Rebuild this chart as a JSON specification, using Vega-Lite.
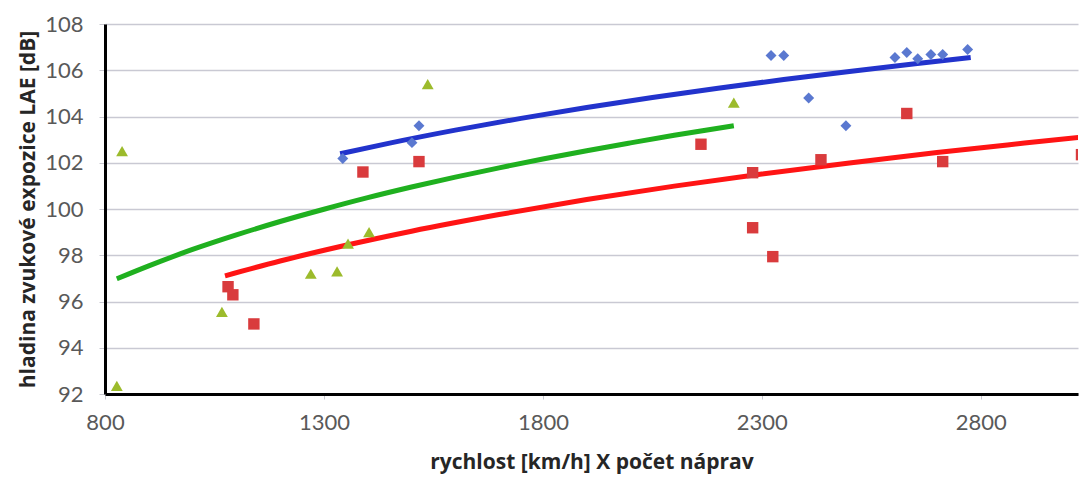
{
  "$schema": "https://vega.github.io/schema/vega-lite/v6.json",
  "width": 973,
  "height": 370,
  "autosize": {"type": "none"},
  "padding": {"left": 105, "top": 24, "right": 2, "bottom": 83},
  "background": "white",
  "config": {"view": {"stroke": null}},
  "datasets": {
    "points": [
      {"x": 839, "y": 102.5, "s": "A"},
      {"x": 827, "y": 92.35, "s": "A"},
      {"x": 1067, "y": 95.55, "s": "A"},
      {"x": 1270, "y": 97.2, "s": "A"},
      {"x": 1330, "y": 97.3, "s": "A"},
      {"x": 1355, "y": 98.5, "s": "A"},
      {"x": 1403, "y": 99.0, "s": "A"},
      {"x": 1537, "y": 105.4, "s": "A"},
      {"x": 2236, "y": 104.6, "s": "A"},
      {"x": 1081, "y": 96.64, "s": "B"},
      {"x": 1092, "y": 96.29, "s": "B"},
      {"x": 1140, "y": 95.03, "s": "B"},
      {"x": 1389, "y": 101.6, "s": "B"},
      {"x": 1517, "y": 102.05, "s": "B"},
      {"x": 2161, "y": 102.8, "s": "B"},
      {"x": 2279, "y": 101.57, "s": "B"},
      {"x": 2279, "y": 99.19, "s": "B"},
      {"x": 2325, "y": 97.94, "s": "B"},
      {"x": 2435, "y": 102.13, "s": "B"},
      {"x": 2631, "y": 104.13, "s": "B"},
      {"x": 2713, "y": 102.05, "s": "B"},
      {"x": 3030, "y": 102.35, "s": "B"},
      {"x": 1343, "y": 102.18, "s": "C"},
      {"x": 1501, "y": 102.87, "s": "C"},
      {"x": 1517, "y": 103.6, "s": "C"},
      {"x": 2321, "y": 106.64, "s": "C"},
      {"x": 2350, "y": 106.64, "s": "C"},
      {"x": 2407, "y": 104.8, "s": "C"},
      {"x": 2492, "y": 103.6, "s": "C"},
      {"x": 2604, "y": 106.55, "s": "C"},
      {"x": 2631, "y": 106.77, "s": "C"},
      {"x": 2656, "y": 106.5, "s": "C"},
      {"x": 2686, "y": 106.68, "s": "C"},
      {"x": 2713, "y": 106.68, "s": "C"},
      {"x": 2770, "y": 106.9, "s": "C"}
    ],
    "lines": [
      {"x": 827, "y": 96.98, "s": "A"},
      {"x": 900, "y": 97.54, "s": "A"},
      {"x": 1000, "y": 98.25, "s": "A"},
      {"x": 1100, "y": 98.88, "s": "A"},
      {"x": 1200, "y": 99.46, "s": "A"},
      {"x": 1300, "y": 99.99, "s": "A"},
      {"x": 1400, "y": 100.49, "s": "A"},
      {"x": 1500, "y": 100.95, "s": "A"},
      {"x": 1600, "y": 101.38, "s": "A"},
      {"x": 1700, "y": 101.78, "s": "A"},
      {"x": 1800, "y": 102.16, "s": "A"},
      {"x": 1900, "y": 102.52, "s": "A"},
      {"x": 2000, "y": 102.86, "s": "A"},
      {"x": 2100, "y": 103.19, "s": "A"},
      {"x": 2236, "y": 103.6, "s": "A"},
      {"x": 1074, "y": 97.11, "s": "B"},
      {"x": 1200, "y": 97.75, "s": "B"},
      {"x": 1350, "y": 98.43, "s": "B"},
      {"x": 1500, "y": 99.04, "s": "B"},
      {"x": 1700, "y": 99.76, "s": "B"},
      {"x": 1900, "y": 100.41, "s": "B"},
      {"x": 2100, "y": 100.99, "s": "B"},
      {"x": 2300, "y": 101.51, "s": "B"},
      {"x": 2500, "y": 101.99, "s": "B"},
      {"x": 2700, "y": 102.44, "s": "B"},
      {"x": 2900, "y": 102.85, "s": "B"},
      {"x": 3040, "y": 103.13, "s": "B"},
      {"x": 1337, "y": 102.39, "s": "C"},
      {"x": 1450, "y": 102.85, "s": "C"},
      {"x": 1600, "y": 103.41, "s": "C"},
      {"x": 1750, "y": 103.92, "s": "C"},
      {"x": 1900, "y": 104.39, "s": "C"},
      {"x": 2050, "y": 104.82, "s": "C"},
      {"x": 2200, "y": 105.22, "s": "C"},
      {"x": 2350, "y": 105.6, "s": "C"},
      {"x": 2500, "y": 105.95, "s": "C"},
      {"x": 2650, "y": 106.28, "s": "C"},
      {"x": 2777, "y": 106.55, "s": "C"}
    ]
  },
  "encoding": {
    "x": {
      "field": "x", "type": "quantitative",
      "scale": {"domain": [800, 3022], "nice": false, "zero": false},
      "axis": {
        "values": [800, 1300, 1800, 2300, 2800],
        "format": "d",
        "labelFlush": false,
        "title": "rychlost [km/h] X počet náprav",
        "titleFont": "Open Sans", "titleFontSize": 21, "titleFontWeight": "bold", "titleColor": "#262626",
        "titlePadding": 18,
        "labelFont": "Lato", "labelFontSize": 22, "labelColor": "#595959", "labelPadding": 13,
        "domainColor": "#000000", "domainWidth": 3,
        "tickColor": "#c8c8d0", "tickSize": 5, "tickWidth": 1,
        "grid": false
      }
    },
    "y": {
      "field": "y", "type": "quantitative",
      "scale": {"domain": [92, 108], "nice": false, "zero": false},
      "axis": {
        "values": [92, 94, 96, 98, 100, 102, 104, 106, 108],
        "title": "hladina zvukové expozice LAE [dB]",
        "titleFont": "Open Sans", "titleFontSize": 21, "titleFontWeight": "bold", "titleColor": "#262626",
        "titlePadding": 6,
        "labelFont": "Lato", "labelFontSize": 22, "labelColor": "#595959", "labelPadding": 16,
        "domainColor": "#000000", "domainWidth": 3,
        "tickColor": "#c8c8d0", "tickSize": 6, "tickWidth": 1,
        "grid": true, "gridColor": "#c9c9d3", "gridWidth": 1.5
      }
    }
  },
  "layer": [
    {
      "data": {"name": "lines"},
      "mark": {"type": "line", "strokeWidth": 5, "clip": true, "interpolate": "monotone"},
      "encoding": {
        "detail": {"field": "s"},
        "color": {
          "field": "s", "type": "nominal",
          "scale": {"domain": ["A", "B", "C"], "range": ["#1fb01f", "#ff1414", "#2233cc"]},
          "legend": null
        }
      }
    },
    {
      "data": {"name": "points"},
      "mark": {"type": "point", "filled": true, "opacity": 1, "clip": true},
      "encoding": {
        "shape": {
          "field": "s", "type": "nominal",
          "scale": {"domain": ["A", "B", "C"], "range": ["triangle-up", "square", "diamond"]},
          "legend": null
        },
        "size": {
          "field": "s", "type": "nominal",
          "scale": {"domain": ["A", "B", "C"], "range": [140, 120, 180]},
          "legend": null
        },
        "color": {
          "field": "s", "type": "nominal",
          "scale": {"domain": ["A", "B", "C"], "range": ["#9cbb2c", "#d93b3d", "#5a78d0"]},
          "legend": null
        }
      }
    }
  ],
  "resolve": {"scale": {"color": "independent"}}
}
